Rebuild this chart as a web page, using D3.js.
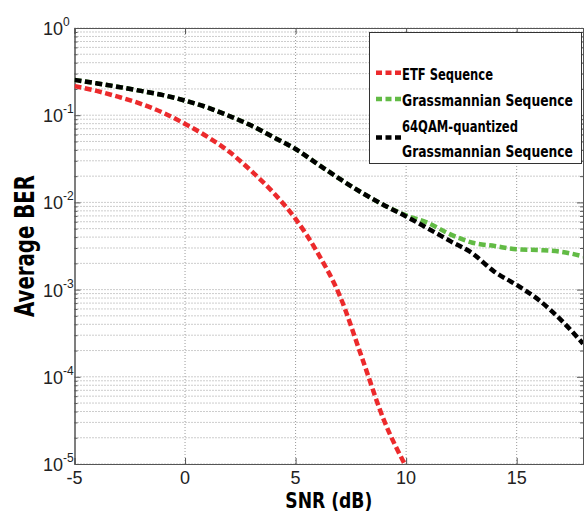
<!DOCTYPE html>
<html>
<head>
<meta charset="utf-8">
<script src="https://cdn.jsdelivr.net/npm/d3@7"></script>
<style>
  html, body { margin: 0; padding: 0; background: #fff; }
  #chart { width: 585px; height: 514px; }
  .tick-label { font-family: "Liberation Sans", Arial, sans-serif; font-size: 18px; fill: #222; }
  .title { font-family: "Liberation Sans Narrow", "DejaVu Sans Condensed", sans-serif; font-weight: bold; fill: #000; }
</style>
</head>
<body>
<div id="chart"></div>
<script>
// SNR values (dB)
const snr = [-5, -4, -3, -2, -1, 0, 1, 2, 3, 4, 5, 6, 7, 8, 9, 10, 11, 12, 13, 14, 15, 16, 17, 18];
const etfSnr = [-5, -4, -3, -2, -1, 0, 1, 2, 3, 4, 5, 6, 7, 8, 9, 10];

// average BER
const etfBer = [0.216, 0.19, 0.162, 0.135, 0.107, 0.0794, 0.0569, 0.038, 0.0229, 0.0129,
                0.00646, 0.00263, 0.00085, 0.000166, 0.0000316, 0.0000093];
const grassBer = [0.254, 0.232, 0.211, 0.19, 0.17, 0.147, 0.123, 0.098, 0.076, 0.056,
                  0.041, 0.0275, 0.0186, 0.0129, 0.0093, 0.0071, 0.0058, 0.0043, 0.00345,
                  0.00316, 0.0029, 0.00284, 0.00272, 0.0024];
const qamBer = [0.254, 0.232, 0.211, 0.19, 0.17, 0.147, 0.123, 0.098, 0.076, 0.056,
                0.041, 0.0275, 0.0186, 0.0129, 0.0093, 0.0069, 0.0050, 0.0036, 0.0026,
                0.0016, 0.00113, 0.00076, 0.00045, 0.00024];

const xTicks = [-5, 0, 5, 10, 15];
const yDecades = [1e-5, 1e-4, 1e-3, 1e-2, 1e-1, 1];
const yExponents = ['-5', '-4', '-3', '-2', '-1', '0'];

const legendNames = [['ETF Sequence'], ['Grassmannian Sequence'], ['64QAM-quantized', 'Grassmannian Sequence']];
const seriesColors = ['#ec2a2c', '#62bb45', '#000000'];

const W = 585, H = 514;
const margin = { top: 28, right: 2, bottom: 50, left: 74.5 };

const svg = d3.select('#chart').append('svg')
    .attr('width', W)
    .attr('height', H);

const x = d3.scaleLinear()
    .domain([-5, 18])
    .range([margin.left, W - margin.right]);

const y = d3.scaleLog()
    .domain([1e-5, 1])
    .range([H - margin.bottom, margin.top]);

const [x0, x1] = x.range();
const [y0, y1] = y.range();

svg.append('clipPath').attr('id', 'plotClip')
  .append('rect')
    .attr('x', x0).attr('y', y1)
    .attr('width', x1 - x0).attr('height', y0 - y1);

// Grid (dotted, major + minor on y)
const grid = svg.append('g').attr('class', 'grid');
grid.selectAll('.hgrid')
  .data(y.ticks())
  .enter().append('line')
    .attr('x1', x0).attr('x2', x1)
    .attr('y1', d => y(d)).attr('y2', d => y(d))
    .attr('stroke', '#9a9a9a')
    .attr('stroke-width', 1)
    .attr('stroke-dasharray', '1,2');

grid.selectAll('.vgrid')
  .data(xTicks.slice(1))
  .enter().append('line')
    .attr('x1', d => x(d)).attr('x2', d => x(d))
    .attr('y1', y0).attr('y2', y1)
    .attr('stroke', '#9a9a9a')
    .attr('stroke-width', 1)
    .attr('stroke-dasharray', '1,2');

// Axes (ticks pointing inward, MATLAB style)
const minors = y.ticks().filter(v => !yDecades.includes(v));

svg.append('g')
    .attr('transform', `translate(${x0},0)`)
    .call(d3.axisLeft(y).tickValues(yDecades).tickSize(-6).tickFormat(''));
svg.append('g')
    .attr('transform', `translate(${x0},0)`)
    .call(d3.axisLeft(y).tickValues(minors).tickSize(-3).tickFormat(''));
svg.append('g')
    .attr('transform', `translate(${x1},0)`)
    .call(d3.axisRight(y).tickValues(yDecades).tickSize(-6).tickFormat(''));
svg.append('g')
    .attr('transform', `translate(${x1},0)`)
    .call(d3.axisRight(y).tickValues(minors).tickSize(-3).tickFormat(''));
svg.append('g')
    .attr('transform', `translate(0,${y0})`)
    .call(d3.axisBottom(x).tickValues(xTicks).tickSize(-6).tickFormat(''));
svg.append('g')
    .attr('transform', `translate(0,${y1})`)
    .call(d3.axisTop(x).tickValues(xTicks).tickSize(-6).tickFormat(''));

svg.selectAll('.domain, .tick line')
    .attr('stroke', '#555');

// Tick labels
svg.append('g').selectAll('text')
  .data(xTicks)
  .enter().append('text')
    .attr('class', 'tick-label')
    .attr('x', d => x(d))
    .attr('y', y0 + 20)
    .attr('text-anchor', 'middle')
    .text(d => d);

const yLab = svg.append('g').selectAll('text')
  .data(yDecades)
  .enter().append('text')
    .attr('class', 'tick-label')
    .attr('x', 43)
    .attr('y', d => y(d) + 7);
yLab.append('tspan').text('10');
yLab.append('tspan')
    .attr('dy', -9)
    .style('font-size', '12px')
    .text((d, i) => yExponents[i]);

// Series
const line = d3.line()
    .x(d => x(d[0]))
    .y(d => y(d[1]))
    .curve(d3.curveMonotoneX);

const series = [
    etfSnr.map((s, i) => [s, etfBer[i]]),
    snr.map((s, i) => [s, grassBer[i]]),
    snr.map((s, i) => [s, qamBer[i]])
];

svg.append('g')
    .attr('clip-path', 'url(#plotClip)')
  .selectAll('path')
  .data(series)
  .enter().append('path')
    .attr('d', line)
    .attr('fill', 'none')
    .attr('stroke', (d, i) => seriesColors[i])
    .attr('stroke-width', 4.5)
    .attr('stroke-dasharray', '7,3.5');

// squeeze a bold text horizontally to a target width (condensed look)
function squeezed(parent, str, px, py, size, width, rotate) {
    const g = parent.append('g');
    const t = g.append('text')
        .attr('class', 'title')
        .attr('text-anchor', 'middle')
        .style('font-size', size + 'px')
        .text(str);
    const sx = Math.min(1, width / t.node().getComputedTextLength());
    g.attr('transform', `translate(${px},${py})${rotate ? ' rotate(-90)' : ''} scale(${sx},1)`);
    return g;
}

// Axis titles
squeezed(svg, 'Average BER', 34, 246, 26, 142, true);
squeezed(svg, 'SNR (dB)', (x0 + x1) / 2, 508, 21, 87, false);

// Legend
const legend = svg.append('g');
legend.append('rect')
    .attr('x', 369.5).attr('y', 32.5)
    .attr('width', 212).attr('height', 131)
    .attr('fill', '#fff')
    .attr('stroke', '#333')
    .attr('stroke-width', 1);

const legendY = [72.7, 99, 137.5];
const legendLen = [[91], [171], [116, 171]];

legendNames.forEach((names, i) => {
    legend.append('line')
        .attr('x1', 376).attr('x2', 401)
        .attr('y1', legendY[i]).attr('y2', legendY[i])
        .attr('stroke', seriesColors[i])
        .attr('stroke-width', 4.5)
        .attr('stroke-dasharray', '6,3.5');
    names.forEach((name, j) => {
        const base = names.length === 1 ? legendY[i] + 7 : legendY[i] - 6 + j * 25;
        squeezed(legend, name, 402 + legendLen[i][j] / 2, base, 16, legendLen[i][j], false);
    });
});
</script>
</body>
</html>
